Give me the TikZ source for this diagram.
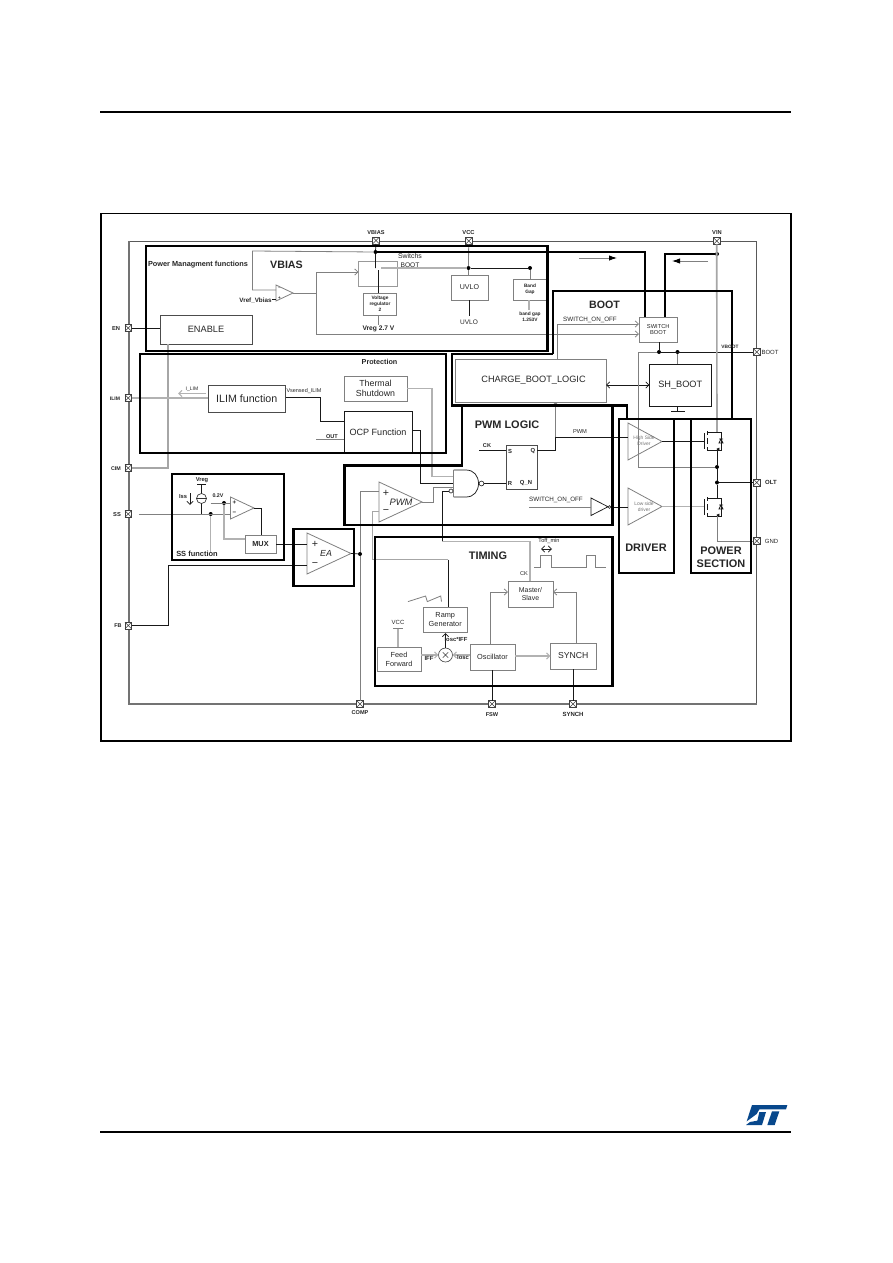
\documentclass[tikz,border=0pt]{standalone}
\usepackage{fontspec}
\setmainfont{Liberation Sans}
\usetikzlibrary{arrows.meta}
\definecolor{stblue}{RGB}{8,72,140}
\newcommand{\fs}[1]{\pgfmathsetmacro{\lead}{#1*1.2}\fontsize{#1}{\lead}\selectfont}
\newcounter{lb}
\newcommand{\lab}[4][]{\stepcounter{lb}\node[txt,#1] (lb\thelb) at (#2,#3) {#4};}
\newcommand{\bx}[6][]{\node[rect,minimum width={(#4-#2)*0.75pt},minimum height={(#5-#3)*0.75pt},#1] (#6) at ({(#2+#4)/2},{(#3+#5)/2}) {};}
\newcommand{\tri}[6][wk]{\coordinate (#2) at (#6,{(#4+#5)/2}); \draw[#1,line join=miter] (#3,#4) -- (#6,{(#4+#5)/2}) -- (#3,#5) -- cycle;}
\newcommand{\pinx}[3]{\node[pinbox] (#1) at (#2,#3) {};}
\newcommand{\fet}[3]{% x of gate bar, y top, y bottom
  \draw[wk] (#1,#2+1) -- (#1,#3-1);
  \draw[wk] (#1+3,#2-1) -- (#1+3,#2+3) (#1+3,#2+6) -- (#1+3,#3-6) (#1+3,#3-3) -- (#1+3,#3+1);
  \draw[wk] (#1+3,#2) -- (#1+17,#2) -- (#1+17,#3) -- (#1+3,#3);
  \draw[wk,-{Latex[length=2.6pt,width=2.4pt]}] (#1+13,#3) -- (#1+13,#3-1) -- (#1+12,#3-1);
  \draw[wk] (#1+15,{(#2+#3)/2+2}) -- (#1+19,{(#2+#3)/2+2}) -- (#1+17,{(#2+#3)/2-2}) -- cycle (#1+15,{(#2+#3)/2-2}) -- (#1+19,{(#2+#3)/2-2});}
\tikzset{
  txt/.style={inner sep=0pt,outer sep=0pt,align=center,text=black!85},
  rect/.style={draw=black!70,line width=0.55pt,inner sep=0pt,outer sep=0pt},
  rectg/.style={draw=black!50,line width=0.7pt},
  rectk/.style={draw=black!90,line width=0.6pt},
  wk/.style={draw=black!90,line width=0.55pt},
  wg/.style={draw=black!50,line width=0.6pt},
  wl/.style={draw=black!30,line width=0.8pt},
  wlt/.style={draw=black!35,line width=1.2pt},
  heavy/.style={draw=black,line width=1.7pt,line join=miter},
  hvy/.style={draw=black,line width=1.5pt,line join=miter},
  op/.style={-{Straight Barb[length=2.4pt,width=4.6pt]}},
  opb/.style={{Straight Barb[length=2.4pt,width=4.6pt]}-{Straight Barb[length=2.4pt,width=4.6pt]}},
  fa/.style={-{Latex[length=6pt,width=4pt,black]}},
  jdot/.style={circle,fill=black,inner sep=0pt,minimum size=3pt,outer sep=0pt},
  bub/.style={circle,draw=black!80,line width=0.5pt,fill=white,inner sep=0pt,minimum size=3.6pt,outer sep=0pt},
  pinbox/.style={draw=black!75,line width=0.45pt,fill=white,inner sep=0pt,outer sep=0pt,minimum size=5pt,
    path picture={\draw[black!75,line width=0.35pt] (path picture bounding box.north west) -- (path picture bounding box.south east) (path picture bounding box.north east) -- (path picture bounding box.south west);}},
  xcirc/.style={circle,draw=black!70,line width=0.5pt,inner sep=0pt,outer sep=0pt,minimum size=10.5pt,
    path picture={\draw[black!75,line width=0.4pt] ([xshift=-2pt,yshift=-2pt]path picture bounding box.center) -- ([xshift=2pt,yshift=2pt]path picture bounding box.center) ([xshift=-2pt,yshift=2pt]path picture bounding box.center) -- ([xshift=2pt,yshift=-2pt]path picture bounding box.center);}},
}
\begin{document}
\begin{tikzpicture}[x=0.75pt,y=-0.75pt]
\useasboundingbox (0,0) rectangle (892,1263);
\fill[white] (0,0) rectangle (892,1263);
% page furniture
\draw[black,line width=1.9pt] (100,112) -- (791,112);
\draw[black,line width=0.9pt] (100,1132) -- (791,1132);
\draw[black,line width=0.85pt] (101,213.5) rectangle (791,741);
\begin{scope}[shift={(730,1090)},x=0.25pt,y=-0.25pt]
 \fill[stblue] (66,45) -- (172,45) -- (168,58) -- (88,58) -- (80,72) -- (50,94) -- cycle;
 \fill[stblue] (48,105) -- (96,105) -- (108,66) -- (88,66) -- (82,92) -- (60,96) -- cycle;
 \fill[stblue] (126,64) -- (148,64) -- (134,105) -- (112,105) -- cycle;
\end{scope}
% chip outline
\bx[draw=black!65,line width=0.5pt]{129}{241}{756.5}{704}{chip}
\draw[black!55,line width=1.3pt] (chip.north west) -- (chip.south west) -- (chip.south east);
% function blocks
\bx{160}{315.5}{252}{344}{ENABLE}
\bx{208}{385}{285.5}{412}{ILIM}
\bx[rectg]{344}{376}{407}{401}{THERM}
\bx[rectk]{344}{411}{412}{453}{OCP}
\bx[draw=black!40]{358.5}{261.5}{397}{286.5}{SWB}
\bx[rectg]{363.5}{293}{396.5}{315}{VREG}
\bx[rectg]{451}{275}{488}{300}{UVLO}
\bx[rectg]{513}{279}{547}{300}{BAND}
\bx[rectg]{639}{317}{677.5}{342}{SWBOOT}
\bx[rectk]{649.5}{364}{711}{406}{SHBOOT}
\bx[rectg]{455}{359}{606}{402}{CHARGE}
\bx{506}{445}{537}{489}{SR}
\bx[rectg]{245}{535}{276}{553}{MUX}
\bx[rectg]{423}{607}{467.5}{632}{RAMP}
\bx[rectg]{377}{647}{421}{671}{FEED}
\bx[rectg]{470}{644}{515}{670}{OSC}
\bx[rectg]{550.5}{643}{596}{669}{SYNC}
\bx[rectg]{508}{581}{553}{607}{MS}
% pins
\pinx{pEN}{128.3}{328}\pinx{pILIM}{128.3}{398}\pinx{pCIM}{128.3}{468}\pinx{pSS}{128.3}{514}\pinx{pFB}{128.3}{625.5}
\pinx{pCOMP}{360}{704}\pinx{pFSW}{492}{704}\pinx{pSYN}{573}{704}
\pinx{pVBIAS}{376}{240.5}\pinx{pVCC}{468.7}{241}\pinx{pVIN}{716.7}{241}
\pinx{pBOOT}{756.7}{352}\pinx{pOLT}{756.7}{482.5}\pinx{pGND}{756.7}{541}
% comparators / buffers
\tri[wg]{tVB}{276}{285}{301}{293}
\tri[wg]{tSS}{230.5}{497}{519}{254}
\tri[wg]{tPWM}{379}{482}{522}{422}
\tri[wg]{tEA}{307}{533}{574}{351}
\tri[wg]{tHI}{628}{423}{460}{662}
\tri[wg]{tLO}{628}{488}{525}{662}
\tri[wk]{tBUF}{591}{498}{515.5}{608}
% junctions
\node[jdot] (jB) at (375.5,252) {};
\node[jdot] (jV) at (468.5,268) {};
\node[jdot] (jG) at (530,268) {};
\node[jdot] (jS1) at (659,352) {};
\node[jdot] (jS2) at (677.5,352) {};
\node[jdot] (jVIN) at (717,254) {};
\node[jdot] (jH) at (717,467) {};
\node[jdot] (jO) at (717,482.5) {};
\node[jdot] (jSS) at (210.7,514) {};
\node[jdot] (jP) at (224,503) {};
\node[jdot] (jE) at (360,554) {};
% VBIAS wiring
\draw[wg] (tVB) -- (316,293);
\draw[wg,op] (316,293) |- (SWB.west |- 0,272);
\draw[wg,op] (316,293) |- (SWBOOT.west |- 0,334);
\draw[wg] (276,290) -| (252.5,251) -- (jB);
\draw[wk] (272,299) -- (276,299);
\draw[wk] (pVBIAS) -- (jB) -- (375.5,268);
\draw[wk] (378,270) -- (VREG.north -| 378,0);
\draw[wg] (VREG.south -| 378,0) -- (378,325);
\draw[wl] (381,268) -- (jV);
\draw[wg] (pVCC) -- (jV);
\draw[wg] (jV) -- (UVLO.north -| jV);
\draw[wk] (jV) -- (jG);
\draw[wg] (jG) -- (BAND.north -| jG);
\draw[wk] (UVLO.south -| 469,0) -- (469,316);
\draw[wl] (BAND.south -| 529,0) -- (529,310);
% ENABLE / ILIM / protection
\draw[wk] (pEN) -- (ENABLE.west |- pEN);
\draw[wlt] (168,0 |- ENABLE.south) -- (168,0 |- pCIM) -- (pCIM);
\draw[wl] (pILIM) -- (ILIM.west |- pILIM);
\draw[wl,op] (206,393.5) -- (178,393.5);
\draw[wk] (ILIM.east |- 0,397) -| (320,421) -- (OCP.west |- 0,421);
\draw[wg] (316,439) -- (OCP.west |- 0,439);
\draw[wk] (OCP.east |- 0,430) -| (420.7,483) -- (453.5,483);
\draw[wl] (THERM.east) -| (432,476.5) -- (453.5,476.5);
\draw[wg] (tPWM) -| (433,487) -- (453.5,487);
% PWM / EA
\draw[wg] (379,491.5) -| (jE);
\draw[wg] (jE) -- (pCOMP);
\draw[wk] (tEA) -- (jE);
\draw[wlt] (379,511.5) -| (372.5,559.5) -- (448,559.5);
\draw[wk] (448,559.5) -- (448,0 |- RAMP.north);
\draw[wk] (MUX.east) -- (307,0 |- MUX.east);
\draw[wk] (pFB) -- (168,0 |- pFB) |- (307,565);
% SS block
\draw[wg] (pSS) ++(11,0) -- (230.5,514);
\draw[wl] (jSS) -- (210.7,553);
\draw[wg] (210.7,503) -- (230.5,503);
\draw[wl] (jP) |- (MUX.west |- 0,539);
\draw[wk] (tSS) -| (MUX.north -| 261.5,0);
\node[circle,draw=black!80,line width=0.5pt,inner sep=0pt,minimum size=7.5pt] (ISRC) at (201.5,498.5) {};
\draw[black!80,line width=0.4pt] (ISRC.west) -- (ISRC.east);
\coordinate (vrb) at (201.5,484);
\draw[wk] (197,484) -- (206,484);
\draw[wk] (vrb) -- (ISRC.north);
\draw[wk] (ISRC.south) -- (ISRC.south |- pSS);
\draw[wk,op] (190,493) -- (190,505);
% NAND and flip-flop
\coordinate (nA) at (453.5,470); \coordinate (nB) at (453.5,497);
\draw[wk] (nA) -- (466,470) .. controls (474,470) and (478.5,476) .. (478.5,483.5) .. controls (478.5,491) and (474,497) .. (466,497) -- (nB);
\draw[wg] (nA) -- (nB);
\node[bub] (bNAND) at (481.5,483.5) {};
\node[bub,minimum size=3pt] (bCLK) at (451,491) {};
\node[bub,minimum size=2.2pt] (bBUF) at (609.5,507) {};
\draw[wk] (bNAND) -- (SR.west |- bNAND);
\draw[wk] (bCLK) -- (442,491) -- (442,541.5);
\draw[wl] (442,541.5) -| (530,0 |- MS.north);
\draw[wk] (479,450.5) -- (SR.west |- 0,450.5);
\draw[wk] (SR.east |- 0,450.5) -| (555.5,437) -- (628,437);
\draw[wg,op] (555.5,437) -- (555.5,0 |- CHARGE.south);
\draw[wg] (529,507) -- (591,507);
\draw[wk] (bBUF) -- (628,507);
% BOOT wiring
\draw[wg,op] (CHARGE.north -| 557.7,0) |- (SWBOOT.west |- 0,324);
\draw[wk,opb] (CHARGE.east |- 0,385) -- (SHBOOT.west |- 0,385);
\draw[wk] (SWBOOT.south -| jS1) -- (jS1);
\draw[wg] (jS2) -- (SHBOOT.north -| jS2);
\draw[wk] (jS1) -- (pBOOT);
\draw[wg] (jS1) -- (638.7,352) |- (jH);
\draw[wk] (SHBOOT.south -| 677.5,0) -- (677.5,411);
\draw[black!90,line width=0.9pt] (671,411.5) -- (685,411.5);
\draw[wlt] (pVIN) -- (717,432);
% FETs
\fet{704}{432}{450}
\fet{704}{498}{516}
\draw[wk] (tHI) -- (704,0 |- tHI);
\draw[wl] (tLO) -- (704,0 |- tLO);
\draw[wk] (717,450) -- (jH) -- (jO) -- (717,498);
\draw[wk] (jO) -- (pOLT);
\draw[wg] (717,516) |- (pGND);
% TIMING wiring
\draw[wg,op] (OSC.north -| 490.5,0) |- (MS.west |- 0,592);
\draw[wg,op] (SYNC.north -| 576,0) |- (MS.east |- 0,592);
\draw[wl,op] (OSC.east |- 0,656) -- (SYNC.west |- 0,656);
\draw[wk] (OSC.south -| pFSW) -- (pFSW);
\draw[wk] (SYNC.south -| pSYN) -- (pSYN);
\node[xcirc] (MULT) at (445.5,655) {};
\draw[wl,op] (FEED.east |- MULT) -- (MULT.west);
\draw[wl,op] (OSC.west |- MULT) -- (MULT.east);
\draw[wk,op] (MULT.north) -- (445.5,633);
\draw[wl] (FEED.north -| 398,0) -- (398,628);
\draw[wg] (393,628) -- (403,628);
\draw[wg] (408,601.6) -- (425.6,596) -- (427.3,601.6) -- (440.7,596) -- (441.5,601.6);
\draw[wg] (534,567) -- (540,567) -- (540,555) -- (551.5,555) -- (551.5,567) -- (586,567) -- (586,555) -- (595,555) -- (595,567) -- (606,567);
\draw[wk,opb] (541,549) -- (552,549);
% thin arrows at supply rails
\draw[wg,fa] (579,258) -- (617,258);
\draw[wg,fa] (708,261) -- (672,261);
% thick block frames
\draw[heavy] (146,246) rectangle (547.5,351);
\draw[heavy] (140,354) rectangle (446,453);
\draw[hvy] (553,354) -- (553,291) -- (731.5,291) -- (731.5,419);
\draw[heavy] (553,354) -- (452,354) -- (452,405.5) -- (627,405.5) -- (627,419);
\draw[heavy] (462,405.5) -- (462,465.5) -- (344.5,465.5) -- (344.5,525) -- (612.5,525) -- (612.5,405.5);
\draw[heavy] (375,252) -- (645,252) -- (645,317);
\draw[heavy] (jVIN) -- (665,254) -- (665,317);
\draw[heavy] (619,419) rectangle (674,573);
\draw[heavy] (691,419) rectangle (751,573);
\draw[heavy] (674,419) -- (691,419);
\draw[heavy] (172,474) rectangle (284,560);
\draw[heavy] (293.5,529) rectangle (354,586);
\draw[heavy] (375,537) rectangle (612.5,686);
% labels
\lab{206}{329}{\fs{6.9}ENABLE}
\node[txt,font=\fs{8}] (tILIM) at (ILIM) {ILIM function};
\node[txt,font=\fs{6.6}] (tTH) at (THERM) {Thermal\\Shutdown};
\node[txt,font=\fs{6.8}] (tOCP) at (378,432) {OCP Function};
\node[txt,font=\fs{6.9}] (tCH) at (533.5,380) {CHARGE\_BOOT\_LOGIC};
\node[txt,font=\fs{6.9}] (tSH) at (SHBOOT) {SH\_BOOT};
\node[txt,font=\fs{4.3}] (tSWB) at (SWBOOT) {SWITCH\\BOOT};
\node[txt,font=\bfseries\fs{3.6}] (tREG) at (VREG) {Voltage\\regulator\\2};
\node[txt,font=\fs{5.3}] (tUV) at (UVLO) {UVLO};
\node[txt,font=\bfseries\fs{3.6}] (tBG) at (BAND) {Band\\Gap};
\node[txt,font=\bfseries\fs{5.5}] (tMUX) at (MUX) {MUX};
\node[txt,font=\fs{5.2}] (tMS) at (MS) {Master/\\Slave};
\node[txt,font=\fs{5.5}] (tRA) at (RAMP) {Ramp\\Generator};
\node[txt,font=\fs{5.5}] (tFE) at (FEED) {Feed\\Forward};
\node[txt,font=\fs{5.5}] (tOS) at (OSC) {Oscillator};
\node[txt,font=\fs{6.5}] (tSY) at (SYNC) {SYNCH};
\lab{198}{265}{\bfseries\fs{5.5}Power Managment functions}
\lab{286.5}{265}{\bfseries\fs{8}VBIAS}
\lab{410}{256.5}{\fs{5.2}Switchs}
\lab{410}{265}{\fs{5}BOOT}
\lab{255.5}{300.5}{\bfseries\fs{4.7}Vref\_Vbias}
\lab{378.5}{329}{\bfseries\fs{5}Vreg 2.7 V}
\lab{469}{322}{\fs{4.9}UVLO}
\lab[font=\bfseries\fs{3.6}]{530}{317}{band gap\\1.253V}
\lab{379.5}{362}{\bfseries\fs{5.4}Protection}
\lab{192}{389}{\fs{3.8}I\_LIM}
\lab{304}{391}{\fs{4.1}Vsensed\_ILIM}
\lab{332}{436.5}{\bfseries\fs{4.2}OUT}
\lab{604.5}{305}{\bfseries\fs{8}BOOT}
\lab{590}{320}{\fs{4.7}SWITCH\_ON\_OFF}
\lab{730}{347}{\bfseries\fs{3.6}VBOOT}
\lab{507}{425}{\bfseries\fs{8.2}PWM LOGIC}
\lab{487}{446}{\bfseries\fs{4.2}CK}
\lab{510}{451}{\bfseries\fs{4.4}S}
\lab{510}{483.5}{\bfseries\fs{4.4}R}
\lab{533}{451}{\bfseries\fs{4.4}Q}
\lab{526}{483.5}{\bfseries\fs{4.4}Q\_N}
\lab{580}{432}{\fs{4.3}PWM}
\lab{556}{499.5}{\fs{4.7}SWITCH\_ON\_OFF}
\lab[font=\fs{3.7},text=black!55]{644}{441}{High Side\\Driver}
\lab[font=\fs{3.7},text=black!55]{644}{506.5}{Low side\\driver}
\lab{646}{548}{\bfseries\fs{8.2}DRIVER}
\lab[font=\bfseries\fs{8.2}]{721}{557}{POWER\\SECTION}
\lab{488}{555.5}{\bfseries\fs{8.2}TIMING}
\lab{549}{541}{\fs{4.2}Toff\_min}
\lab{524}{574}{\fs{4.2}CK}
\lab{398}{622}{\fs{4.5}VCC}
\lab{429}{658}{\bfseries\fs{4.5}IFF}
\lab{463}{658}{\bfseries\fs{4.4}Iosc}
\lab{456}{639.5}{\bfseries\fs{4.4}Iosc*IFF}
\lab{202}{480}{\bfseries\fs{4.3}Vreg}
\lab{183}{497}{\bfseries\fs{4.3}Iss}
\lab{218}{495.5}{\bfseries\fs{4}0.2V}
\lab{197}{553.5}{\bfseries\fs{5.6}SS function}
\lab{401}{502}{\itshape\fs{7}PWM}
\lab{326}{553.5}{\itshape\fs{6.6}EA}
\lab{315}{544.5}{\fs{8}+}
\lab{315}{564.5}{\fs{8}−}
\lab{386}{493}{\fs{8}+}
\lab{386}{511.5}{\fs{8}−}
\lab{234.5}{503}{\bfseries\fs{4.6}+}
\lab{234.5}{513.5}{\bfseries\fs{4.6}−}
\lab{279.5}{298.5}{\bfseries\fs{3.4}+}
\lab{279.5}{289}{\fs{3.4}−}
% pin labels
\lab{116}{328.5}{\bfseries\fs{4.3}EN}
\lab{115}{398.5}{\bfseries\fs{3.8}ILIM}
\lab{116}{468.5}{\bfseries\fs{4}CIM}
\lab{117}{514.5}{\bfseries\fs{4.3}SS}
\lab{118}{625.5}{\bfseries\fs{4.1}FB}
\lab{360}{712.5}{\bfseries\fs{4.2}COMP}
\lab{492}{714.5}{\bfseries\fs{4.2}FSW}
\lab{573}{714.5}{\bfseries\fs{4.5}SYNCH}
\lab{376}{233}{\bfseries\fs{4.2}VBIAS}
\lab{468.5}{232.5}{\bfseries\fs{4.3}VCC}
\lab{717}{232.5}{\bfseries\fs{4.3}VIN}
\lab{770}{352.5}{\fs{4.5}BOOT}
\lab{771}{482.5}{\bfseries\fs{4.5}OLT}
\lab{771.5}{541}{\fs{4.5}GND}
\end{tikzpicture}
\end{document}
